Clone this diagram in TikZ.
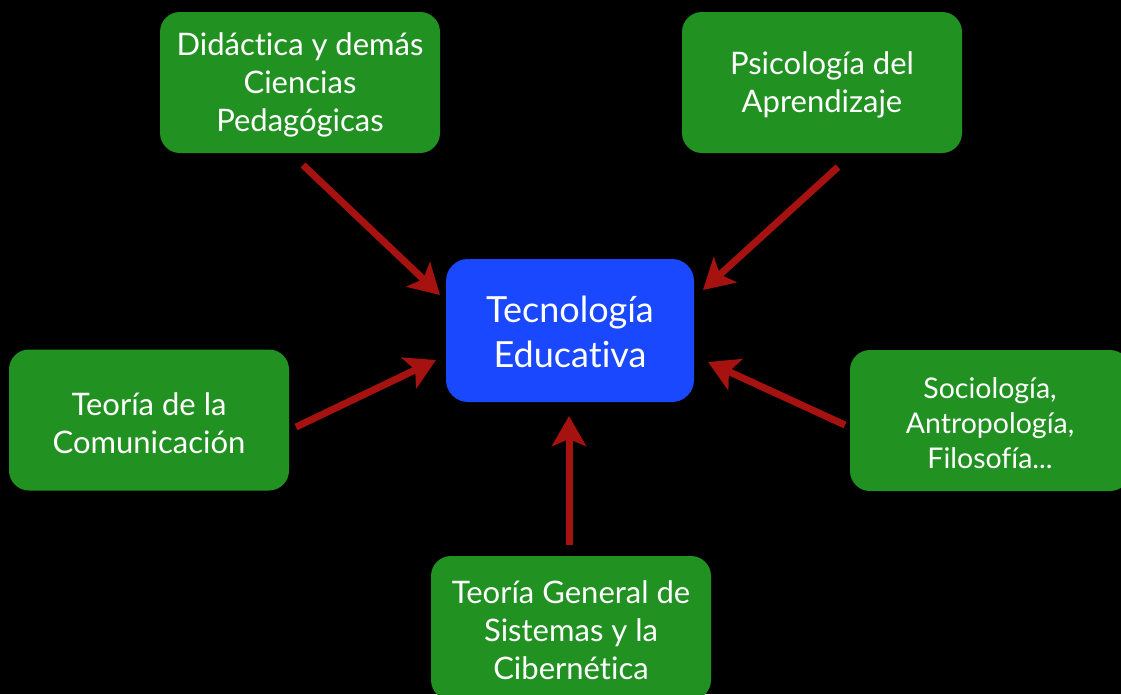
\documentclass[tikz,border=0pt]{standalone}
\usepackage{fontspec}
\setmainfont{Lato}[Ligatures=NoCommon]
\usetikzlibrary{arrows.meta}
\definecolor{boxgreen}{RGB}{33,145,33}
\definecolor{boxblue}{RGB}{26,72,255}
\definecolor{arrowred}{RGB}{165,18,15}
\tikzset{
  greenbox/.style={fill=boxgreen, rounded corners=20pt, minimum width=280pt, minimum height=141pt, inner sep=0pt},
  greentext/.style={text=white, align=center, font=\fontsize{31}{38}\selectfont, inner sep=0pt},
  bluebox/.style={fill=boxblue, rounded corners=22pt, minimum width=248pt, minimum height=143pt, inner sep=0pt},
  bluetext/.style={text=white, align=center, font=\fontsize{36}{45}\selectfont, inner sep=0pt},
  redarrow/.style={draw=arrowred, line width=7pt, -{Stealth[length=30pt,width=34pt,inset=7pt]}}
}
\begin{document}
\begin{tikzpicture}[x=1pt,y=-1pt]
\fill[black] (0,0) rectangle (1121,694);
\useasboundingbox (0,0) rectangle (1121,694);
\begin{scope}
\clip (0,0) rectangle (1121,694);
\node[bluebox] (center) at (570,330.5) {};
\node[bluetext] (centert) at (570,332) {Tecnología\\Educativa};
\node[greenbox] (tl) at (300,82.5) {};
\node[greentext] (tlt) at (300,85) {Didáctica y demás\\Ciencias\\Pedagógicas};
\node[greenbox] (tr) at (822,82.5) {};
\node[greentext] (trt) at (822,85) {Psicología del\\Aprendizaje};
\node[greenbox] (lf) at (149,420) {};
\node[greentext] (lft) at (149,423) {Teoría de la\\Comunicación};
\node[greenbox] (rt) at (990,420.5) {};
\node[greentext, font=\fontsize{28.5}{35}\selectfont] (rtt) at (990,423) {Sociología,\\Antropología,\\Filosofía...};
\node[greenbox, minimum height=144pt] (bt) at (571,628) {};
\node[greentext] (btt) at (571,630) {Teoría General de\\Sistemas y la\\Cibernética};
\end{scope}
\coordinate (s1) at (303,165); \coordinate (e1) at (440,295);
\coordinate (s2) at (838,167); \coordinate (e2) at (703,290);
\coordinate (s3) at (296,427); \coordinate (e3) at (436,360);
\coordinate (s4) at (845,425); \coordinate (e4) at (708,362);
\coordinate (s5) at (569,545); \coordinate (e5) at (569,416);
\draw[redarrow] (s1) -- (e1);
\draw[redarrow] (s2) -- (e2);
\draw[redarrow] (s3) -- (e3);
\draw[redarrow] (s4) -- (e4);
\draw[redarrow] (s5) -- (e5);
\end{tikzpicture}
\end{document}
